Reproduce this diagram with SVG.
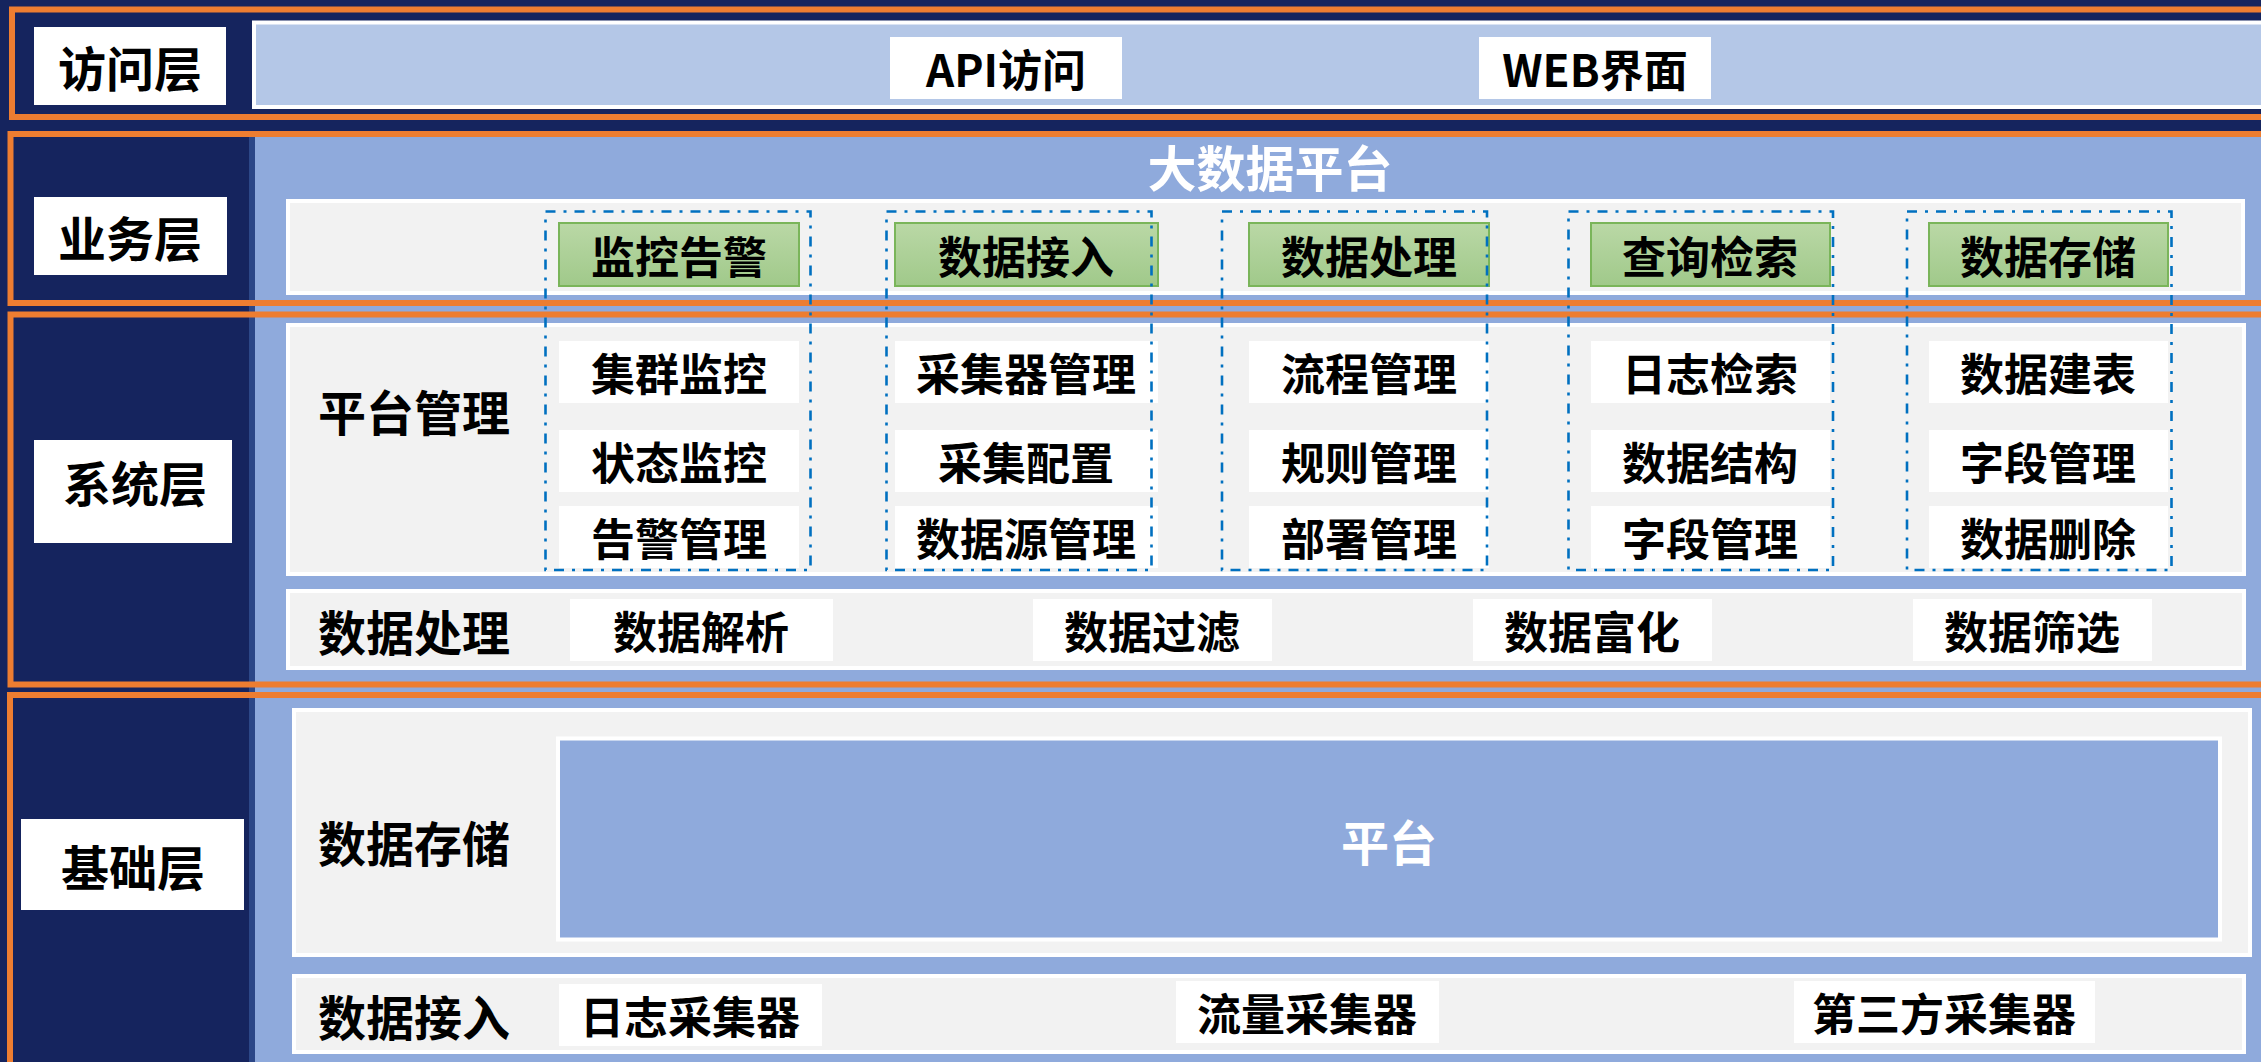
<svg xmlns="http://www.w3.org/2000/svg" width="2261" height="1062" viewBox="0 0 2261 1062">
<style>
.t{font-family:"Noto Sans CJK SC","Microsoft YaHei",sans-serif;font-weight:700;fill:#000;text-anchor:middle;dominant-baseline:central}
.w{fill:#fff}
.f44{font-size:44px}
.f48{font-size:48px}
.box{fill:#fff}
.panel{fill:#F2F2F2;stroke:#fff;stroke-width:4}
.orange{fill:none;stroke:#ED7D31;stroke-width:6}
.dash{fill:none;stroke:#0070C0;stroke-width:2.6;stroke-dasharray:10 8 3 8}
.green{fill:url(#gg);stroke:#7AB55A;stroke-width:2}
</style>
<defs>
<linearGradient id="gg" x1="0" y1="0" x2="0" y2="1">
<stop offset="0" stop-color="#BAD8A6"/>
<stop offset="1" stop-color="#A0C98A"/>
</linearGradient>
</defs>
<rect x="0" y="0" width="2261" height="1062" fill="#15245E"/>
<rect x="254" y="131" width="2010" height="935" fill="#8FAADC"/>
<rect x="249" y="137" width="6" height="930" fill="#2C4787"/>

<g id="access-layer">
<rect x="254" y="22.5" width="2100" height="84.5" fill="#B4C7E7" stroke="#fff" stroke-width="4"/>
<rect class="orange" x="12" y="9.5" width="2300" height="107.5"/>
<g id="access-label"><rect class="box" x="34" y="27" width="192" height="78"/><text class="t f48" x="130" y="66">访问层</text></g>
<g id="api"><rect class="box" x="890" y="37" width="232" height="62"/><text class="t f44" x="1006" y="68">API访问</text></g>
<g id="web"><rect class="box" x="1479" y="37" width="232" height="62"/><text class="t f44" x="1595" y="68">WEB界面</text></g>
</g>

<g id="business-layer">
<text class="t w" x="1270" y="165" font-size="49">大数据平台</text>
<rect class="panel" x="288" y="201" width="1955" height="92"/>
<rect class="orange" x="10.5" y="134" width="2300" height="169"/>
<g id="business-label"><rect class="box" x="34" y="197" width="193" height="78"/><text class="t f48" x="130" y="236">业务层</text></g>
</g>

<g id="system-layer">
<rect class="panel" x="288" y="325" width="1956" height="249"/>
<rect class="panel" x="288" y="591" width="1956" height="77"/>
<rect class="orange" x="10.5" y="314.5" width="2300" height="370"/>
<g id="system-label"><rect class="box" x="34" y="440" width="198" height="103"/><text class="t f48" x="135" y="481">系统层</text></g>
<text class="t f48" x="414" y="410">平台管理</text>
<text class="t f48" x="414" y="630">数据处理</text>
</g>

<g id="col-monitor">
<rect class="green" x="559" y="223" width="240" height="63"/><text class="t f44" x="679" y="255">监控告警</text>
<rect class="box" x="559" y="341" width="240" height="62"/><text class="t f44" x="679" y="372">集群监控</text>
<rect class="box" x="559" y="430" width="240" height="62"/><text class="t f44" x="679" y="461">状态监控</text>
<rect class="box" x="559" y="506" width="240" height="62"/><text class="t f44" x="679" y="537">告警管理</text>
<rect class="dash" x="545.5" y="211.5" width="265" height="358.5"/>
</g>
<g id="col-ingest">
<rect class="green" x="895" y="223" width="263" height="63"/><text class="t f44" x="1026" y="255">数据接入</text>
<rect class="box" x="895" y="341" width="263" height="62"/><text class="t f44" x="1026" y="372">采集器管理</text>
<rect class="box" x="895" y="430" width="263" height="62"/><text class="t f44" x="1026" y="461">采集配置</text>
<rect class="box" x="895" y="506" width="263" height="62"/><text class="t f44" x="1026" y="537">数据源管理</text>
<rect class="dash" x="886.5" y="211.5" width="265" height="358.5"/>
</g>
<g id="col-process">
<rect class="green" x="1249" y="223" width="240" height="63"/><text class="t f44" x="1369" y="255">数据处理</text>
<rect class="box" x="1249" y="341" width="240" height="62"/><text class="t f44" x="1369" y="372">流程管理</text>
<rect class="box" x="1249" y="430" width="240" height="62"/><text class="t f44" x="1369" y="461">规则管理</text>
<rect class="box" x="1249" y="506" width="240" height="62"/><text class="t f44" x="1369" y="537">部署管理</text>
<rect class="dash" x="1222" y="211.5" width="265" height="358.5"/>
</g>
<g id="col-query">
<rect class="green" x="1591" y="223" width="239" height="63"/><text class="t f44" x="1710" y="255">查询检索</text>
<rect class="box" x="1591" y="341" width="239" height="62"/><text class="t f44" x="1710" y="372">日志检索</text>
<rect class="box" x="1591" y="430" width="239" height="62"/><text class="t f44" x="1710" y="461">数据结构</text>
<rect class="box" x="1591" y="506" width="239" height="62"/><text class="t f44" x="1710" y="537">字段管理</text>
<rect class="dash" x="1568.5" y="211.5" width="264.5" height="358.5"/>
</g>
<g id="col-storage">
<rect class="green" x="1929" y="223" width="239" height="63"/><text class="t f44" x="2048" y="255">数据存储</text>
<rect class="box" x="1929" y="341" width="239" height="62"/><text class="t f44" x="2048" y="372">数据建表</text>
<rect class="box" x="1929" y="430" width="239" height="62"/><text class="t f44" x="2048" y="461">字段管理</text>
<rect class="box" x="1929" y="506" width="239" height="62"/><text class="t f44" x="2048" y="537">数据删除</text>
<rect class="dash" x="1907" y="211.5" width="264.5" height="358.5"/>
</g>

<g id="data-processing-row">
<rect class="box" x="570" y="599" width="263" height="62"/><text class="t f44" x="701" y="630">数据解析</text>
<rect class="box" x="1033" y="599" width="239" height="62"/><text class="t f44" x="1152" y="630">数据过滤</text>
<rect class="box" x="1473" y="599" width="239" height="62"/><text class="t f44" x="1592" y="630">数据富化</text>
<rect class="box" x="1913" y="599" width="239" height="62"/><text class="t f44" x="2032" y="630">数据筛选</text>
</g>

<g id="base-layer">
<rect class="panel" x="294" y="710" width="1956" height="245"/>
<rect x="558" y="738.5" width="1662" height="201" fill="#8FAADC" stroke="#fff" stroke-width="4"/>
<text class="t w" x="1389" y="840" font-size="48">平台</text>
<rect class="panel" x="294" y="976" width="1950" height="76"/>
<rect class="orange" x="10" y="695" width="2300" height="400"/>
<g id="base-label"><rect class="box" x="21" y="819" width="223" height="91"/><text class="t f48" x="133" y="865">基础层</text></g>
<text class="t f48" x="414" y="841">数据存储</text>
<text class="t f48" x="414" y="1015">数据接入</text>
<rect class="box" x="559" y="984" width="263" height="62"/><text class="t f44" x="690" y="1015">日志采集器</text>
<rect class="box" x="1176" y="981" width="263" height="62"/><text class="t f44" x="1307" y="1012">流量采集器</text>
<rect class="box" x="1794" y="981" width="301" height="62"/><text class="t f44" x="1944" y="1012">第三方采集器</text>
</g>
<g id="connectors"/>
</svg>
